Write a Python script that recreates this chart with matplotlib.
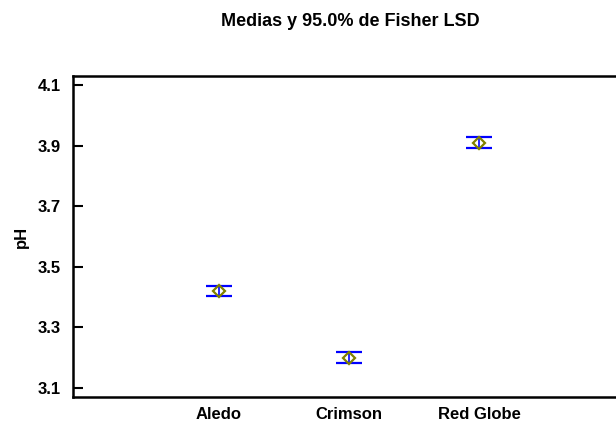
import numpy as np
import matplotlib
matplotlib.use("Agg")
import matplotlib.pyplot as plt

plt.rcParams['font.family'] = ['Liberation Sans', 'DejaVu Sans']

# datos
variedades = ["Aledo", "Crimson", "Red Globe"]
medias = [3.420, 3.200, 3.910]
lsd_semi = [0.018, 0.018, 0.018]
yticks = [3.1, 3.3, 3.5, 3.7, 3.9, 4.1]

fig = plt.figure(figsize=(6.16, 4.23), dpi=100)
ax = fig.add_axes([73 / 616, 1 - 397 / 423, (625 - 73) / 616, (397 - 76) / 423])

x = np.arange(len(variedades))
ax.errorbar(x, medias, yerr=lsd_semi, fmt="none", ecolor="#0000ff",
            elinewidth=1.2, capsize=9.5, capthick=1.6)
ax.plot(x, medias, linestyle="none", marker="D", markersize=6.5,
        markerfacecolor="none", markeredgecolor="#808000", markeredgewidth=1.6)

ax.set_xlim(-1.123, 3.123)
ax.set_ylim(3.07, 4.13)
ax.set_yticks(yticks)
ax.set_yticklabels([f"{v:.1f}" for v in yticks], fontsize=12, fontweight="bold")
ax.set_xticks(x)
ax.set_xticklabels(variedades, fontsize=12, fontweight="bold")
ax.tick_params(axis="y", direction="in", length=7, width=1.5, pad=9)
ax.tick_params(axis="x", length=0, pad=7.5)
for s in ax.spines.values():
    s.set_linewidth(1.8)
ax.spines["right"].set_visible(False)

ax.set_ylabel("pH", fontsize=12, fontweight="bold", labelpad=6)
fig.text(350 / 616, 1 - 22 / 423, "Medias y 95.0% de Fisher LSD",
         ha="center", va="center", fontsize=13, fontweight="bold")

fig.savefig("out.png", dpi=100)
